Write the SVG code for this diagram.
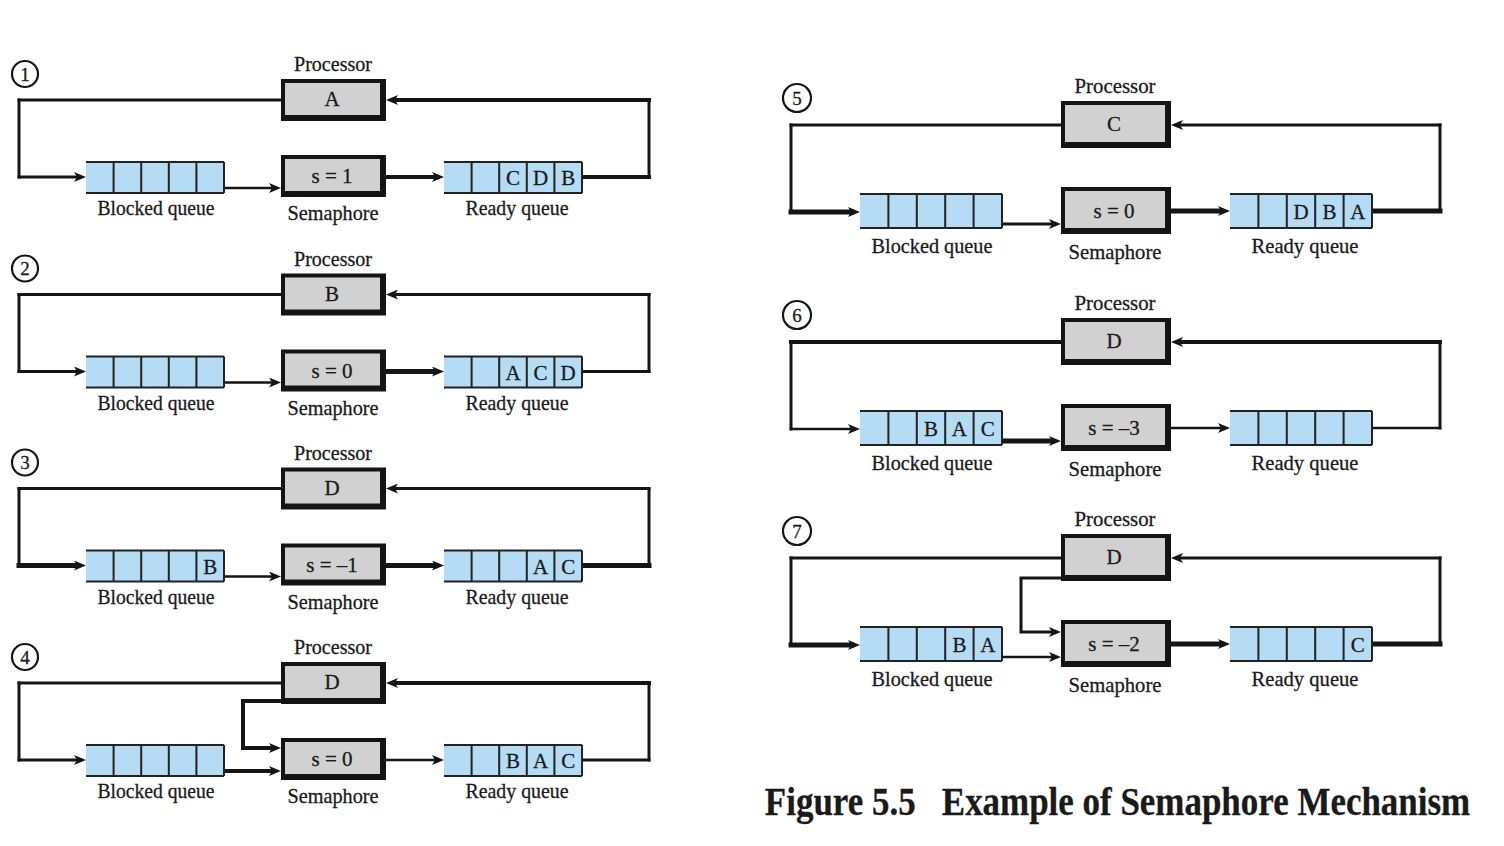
<svg xmlns="http://www.w3.org/2000/svg" width="1504" height="846" viewBox="0 0 1504 846">
<defs>
<style>
.t{font-family:"Liberation Serif","Times New Roman",serif;fill:#1a1a1a;text-anchor:middle;stroke:#1a1a1a;stroke-width:0.3}
.lbl{font-size:22px}
.cl{font-size:21px}
.num{font-size:19px}
.ln{fill:none;stroke:#151515;stroke-linecap:square}
.w25{stroke-width:2.5}.w3{stroke-width:3}.w4{stroke-width:4}.w5{stroke-width:5}
.q{fill:#b5dcf4}
.qb{fill:none;stroke:#222;stroke-width:2}
.bx{fill:#141414}
.in{fill:#d1d1d1}
.circ{fill:#fff;stroke:#151515;stroke-width:2.2}
</style>
<marker id="ah" viewBox="0 0 12 10" refX="3" refY="5" markerWidth="12" markerHeight="10" markerUnits="userSpaceOnUse" orient="auto"><path d="M0,0 L12,5 L0,10 L3,5 z" fill="#151515"/></marker>
</defs>
<rect width="1504" height="846" fill="#fff"/>

<!-- Panel 1 -->
<g id="panel1">
<g id="p1-connectors">
<path class="ln w3" d="M281,100 H19"/><path class="ln w3" d="M19,100 V177"/><path class="ln w3" d="M19,177 H77" marker-end="url(#ah)"/>
<path class="ln w25" d="M224,188 H272" marker-end="url(#ah)"/>
<path class="ln w4" d="M386,177 H435" marker-end="url(#ah)"/>
<path class="ln w4" d="M582,177 H649"/><path class="ln w3" d="M649,177 V100"/><path class="ln w4" d="M649,100 H395" marker-end="url(#ah)"/>
</g>
<g id="p1-step"><circle class="circ" cx="25" cy="74" r="13"/><text class="t num" x="25" y="80.5">1</text></g>
<g id="p1-processor"><text class="t lbl" x="333" y="71" textLength="78" lengthAdjust="spacingAndGlyphs">Processor</text><rect class="bx" x="281" y="79" width="105" height="42"/><rect class="in" x="285" y="83" width="95" height="32"/><text class="t cl" x="332" y="106">A</text></g>
<g id="p1-semaphore"><rect class="bx" x="281" y="155" width="105" height="42"/><rect class="in" x="285" y="159" width="95" height="32"/><text class="t cl" x="332" y="183">s = 1</text><text class="t lbl" x="333" y="220" textLength="91" lengthAdjust="spacingAndGlyphs">Semaphore</text></g>
<g id="p1-blocked"><rect class="q" x="86" y="162" width="138" height="31"/><path class="qb" d="M86,162 H224 M86,193 H224 M113.6,162 V193 M141.2,162 V193 M168.8,162 V193 M196.4,162 V193 M224,162 V193"/><text class="t lbl" x="156" y="215" textLength="117" lengthAdjust="spacingAndGlyphs">Blocked queue</text></g>
<g id="p1-ready"><rect class="q" x="444" y="162" width="138" height="31"/><path class="qb" d="M444,162 H582 M444,193 H582 M471.6,162 V193 M499.2,162 V193 M526.8,162 V193 M554.4,162 V193 M582,162 V193"/><text class="t cl" x="513" y="185">C</text><text class="t cl" x="540.6" y="185">D</text><text class="t cl" x="568.2" y="185">B</text><text class="t lbl" x="517" y="215" textLength="103" lengthAdjust="spacingAndGlyphs">Ready queue</text></g>
</g>

<!-- Panel 2 -->
<g id="panel2" transform="translate(0,194.5)">
<g id="p2-connectors">
<path class="ln w3" d="M281,100 H19"/><path class="ln w3" d="M19,100 V177"/><path class="ln w3" d="M19,177 H77" marker-end="url(#ah)"/>
<path class="ln w25" d="M224,188 H272" marker-end="url(#ah)"/>
<path class="ln w5" d="M386,177 H435" marker-end="url(#ah)"/>
<path class="ln w3" d="M582,177 H649"/><path class="ln w3" d="M649,177 V100"/><path class="ln w3" d="M649,100 H395" marker-end="url(#ah)"/>
</g>
<g id="p2-step"><circle class="circ" cx="25" cy="74" r="13"/><text class="t num" x="25" y="80.5">2</text></g>
<g id="p2-processor"><text class="t lbl" x="333" y="71" textLength="78" lengthAdjust="spacingAndGlyphs">Processor</text><rect class="bx" x="281" y="79" width="105" height="42"/><rect class="in" x="285" y="83" width="95" height="32"/><text class="t cl" x="332" y="106">B</text></g>
<g id="p2-semaphore"><rect class="bx" x="281" y="155" width="105" height="42"/><rect class="in" x="285" y="159" width="95" height="32"/><text class="t cl" x="332" y="183">s = 0</text><text class="t lbl" x="333" y="220" textLength="91" lengthAdjust="spacingAndGlyphs">Semaphore</text></g>
<g id="p2-blocked"><rect class="q" x="86" y="162" width="138" height="31"/><path class="qb" d="M86,162 H224 M86,193 H224 M113.6,162 V193 M141.2,162 V193 M168.8,162 V193 M196.4,162 V193 M224,162 V193"/><text class="t lbl" x="156" y="215" textLength="117" lengthAdjust="spacingAndGlyphs">Blocked queue</text></g>
<g id="p2-ready"><rect class="q" x="444" y="162" width="138" height="31"/><path class="qb" d="M444,162 H582 M444,193 H582 M471.6,162 V193 M499.2,162 V193 M526.8,162 V193 M554.4,162 V193 M582,162 V193"/><text class="t cl" x="513" y="185">A</text><text class="t cl" x="540.6" y="185">C</text><text class="t cl" x="568.2" y="185">D</text><text class="t lbl" x="517" y="215" textLength="103" lengthAdjust="spacingAndGlyphs">Ready queue</text></g>
</g>

<!-- Panel 3 -->
<g id="panel3" transform="translate(0,388.5)">
<g id="p3-connectors">
<path class="ln w3" d="M281,100 H19"/><path class="ln w3" d="M19,100 V177"/><path class="ln w5" d="M19,177 H77" marker-end="url(#ah)"/>
<path class="ln w25" d="M224,188 H272" marker-end="url(#ah)"/>
<path class="ln w5" d="M386,177 H435" marker-end="url(#ah)"/>
<path class="ln w5" d="M582,177 H649"/><path class="ln w3" d="M649,177 V100"/><path class="ln w3" d="M649,100 H395" marker-end="url(#ah)"/>
</g>
<g id="p3-step"><circle class="circ" cx="25" cy="74" r="13"/><text class="t num" x="25" y="80.5">3</text></g>
<g id="p3-processor"><text class="t lbl" x="333" y="71" textLength="78" lengthAdjust="spacingAndGlyphs">Processor</text><rect class="bx" x="281" y="79" width="105" height="42"/><rect class="in" x="285" y="83" width="95" height="32"/><text class="t cl" x="332" y="106">D</text></g>
<g id="p3-semaphore"><rect class="bx" x="281" y="155" width="105" height="42"/><rect class="in" x="285" y="159" width="95" height="32"/><text class="t cl" x="332" y="183">s = –1</text><text class="t lbl" x="333" y="220" textLength="91" lengthAdjust="spacingAndGlyphs">Semaphore</text></g>
<g id="p3-blocked"><rect class="q" x="86" y="162" width="138" height="31"/><path class="qb" d="M86,162 H224 M86,193 H224 M113.6,162 V193 M141.2,162 V193 M168.8,162 V193 M196.4,162 V193 M224,162 V193"/><text class="t cl" x="210.2" y="185">B</text><text class="t lbl" x="156" y="215" textLength="117" lengthAdjust="spacingAndGlyphs">Blocked queue</text></g>
<g id="p3-ready"><rect class="q" x="444" y="162" width="138" height="31"/><path class="qb" d="M444,162 H582 M444,193 H582 M471.6,162 V193 M499.2,162 V193 M526.8,162 V193 M554.4,162 V193 M582,162 V193"/><text class="t cl" x="540.6" y="185">A</text><text class="t cl" x="568.2" y="185">C</text><text class="t lbl" x="517" y="215" textLength="103" lengthAdjust="spacingAndGlyphs">Ready queue</text></g>
</g>

<!-- Panel 4 -->
<g id="panel4" transform="translate(0,583)">
<g id="p4-connectors">
<path class="ln w3" d="M281,100 H19"/><path class="ln w3" d="M19,100 V177"/><path class="ln w3" d="M19,177 H77" marker-end="url(#ah)"/>
<path class="ln w4" d="M224,188 H272" marker-end="url(#ah)"/>
<path class="ln w25" d="M386,177 H435" marker-end="url(#ah)"/>
<path class="ln w3" d="M582,177 H649"/><path class="ln w3" d="M649,177 V100"/><path class="ln w4" d="M649,100 H395" marker-end="url(#ah)"/>
<path class="ln w4" d="M281,118 H243 V165 H272" marker-end="url(#ah)"/>
</g>
<g id="p4-step"><circle class="circ" cx="25" cy="74" r="13"/><text class="t num" x="25" y="80.5">4</text></g>
<g id="p4-processor"><text class="t lbl" x="333" y="71" textLength="78" lengthAdjust="spacingAndGlyphs">Processor</text><rect class="bx" x="281" y="79" width="105" height="42"/><rect class="in" x="285" y="83" width="95" height="32"/><text class="t cl" x="332" y="106">D</text></g>
<g id="p4-semaphore"><rect class="bx" x="281" y="155" width="105" height="42"/><rect class="in" x="285" y="159" width="95" height="32"/><text class="t cl" x="332" y="183">s = 0</text><text class="t lbl" x="333" y="220" textLength="91" lengthAdjust="spacingAndGlyphs">Semaphore</text></g>
<g id="p4-blocked"><rect class="q" x="86" y="162" width="138" height="31"/><path class="qb" d="M86,162 H224 M86,193 H224 M113.6,162 V193 M141.2,162 V193 M168.8,162 V193 M196.4,162 V193 M224,162 V193"/><text class="t lbl" x="156" y="215" textLength="117" lengthAdjust="spacingAndGlyphs">Blocked queue</text></g>
<g id="p4-ready"><rect class="q" x="444" y="162" width="138" height="31"/><path class="qb" d="M444,162 H582 M444,193 H582 M471.6,162 V193 M499.2,162 V193 M526.8,162 V193 M554.4,162 V193 M582,162 V193"/><text class="t cl" x="513" y="185">B</text><text class="t cl" x="540.6" y="185">A</text><text class="t cl" x="568.2" y="185">C</text><text class="t lbl" x="517" y="215" textLength="103" lengthAdjust="spacingAndGlyphs">Ready queue</text></g>
</g>

<!-- Panel 5 -->
<g id="panel5">
<g id="p5-connectors">
<path class="ln w3" d="M1061,125 H791"/><path class="ln w3" d="M791,125 V212"/><path class="ln w5" d="M791,212 H851" marker-end="url(#ah)"/>
<path class="ln w3" d="M1002,224 H1052" marker-end="url(#ah)"/>
<path class="ln w5" d="M1171,211 H1221" marker-end="url(#ah)"/>
<path class="ln w5" d="M1372,211 H1440"/><path class="ln w3" d="M1440,211 V125"/><path class="ln w3" d="M1440,125 H1180" marker-end="url(#ah)"/>
</g>
<g id="p5-step"><circle class="circ" cx="797" cy="98" r="14"/><text class="t num" x="797" y="104.5">5</text></g>
<g id="p5-processor"><text class="t lbl" x="1115" y="93" textLength="81" lengthAdjust="spacingAndGlyphs">Processor</text><rect class="bx" x="1061" y="101" width="110" height="47"/><rect class="in" x="1065" y="105" width="100" height="37"/><text class="t cl" x="1114" y="131">C</text></g>
<g id="p5-semaphore"><rect class="bx" x="1061" y="187" width="110" height="47"/><rect class="in" x="1065" y="191" width="100" height="37"/><text class="t cl" x="1114" y="218">s = 0</text><text class="t lbl" x="1115" y="259" textLength="93" lengthAdjust="spacingAndGlyphs">Semaphore</text></g>
<g id="p5-blocked"><rect class="q" x="860" y="194" width="142" height="34"/><path class="qb" d="M860,194 H1002 M860,228 H1002 M888.4,194 V228 M916.8,194 V228 M945.2,194 V228 M973.6,194 V228 M1002,194 V228"/><text class="t lbl" x="932" y="253" textLength="121" lengthAdjust="spacingAndGlyphs">Blocked queue</text></g>
<g id="p5-ready"><rect class="q" x="1230" y="194" width="142" height="34"/><path class="qb" d="M1230,194 H1372 M1230,228 H1372 M1258.4,194 V228 M1286.8,194 V228 M1315.2,194 V228 M1343.6,194 V228 M1372,194 V228"/><text class="t cl" x="1301" y="219">D</text><text class="t cl" x="1329.4" y="219">B</text><text class="t cl" x="1357.8" y="219">A</text><text class="t lbl" x="1305" y="253" textLength="107" lengthAdjust="spacingAndGlyphs">Ready queue</text></g>
</g>

<!-- Panel 6 -->
<g id="panel6" transform="translate(0,217)">
<g id="p6-connectors">
<path class="ln w4" d="M1061,125 H791"/><path class="ln w3" d="M791,125 V212"/><path class="ln w25" d="M791,212 H851" marker-end="url(#ah)"/>
<path class="ln w5" d="M1002,224 H1052" marker-end="url(#ah)"/>
<path class="ln w25" d="M1171,211 H1221" marker-end="url(#ah)"/>
<path class="ln w25" d="M1372,211 H1440"/><path class="ln w3" d="M1440,211 V125"/><path class="ln w4" d="M1440,125 H1180" marker-end="url(#ah)"/>
</g>
<g id="p6-step"><circle class="circ" cx="797" cy="98" r="14"/><text class="t num" x="797" y="104.5">6</text></g>
<g id="p6-processor"><text class="t lbl" x="1115" y="93" textLength="81" lengthAdjust="spacingAndGlyphs">Processor</text><rect class="bx" x="1061" y="101" width="110" height="47"/><rect class="in" x="1065" y="105" width="100" height="37"/><text class="t cl" x="1114" y="131">D</text></g>
<g id="p6-semaphore"><rect class="bx" x="1061" y="187" width="110" height="47"/><rect class="in" x="1065" y="191" width="100" height="37"/><text class="t cl" x="1114" y="218">s = –3</text><text class="t lbl" x="1115" y="259" textLength="93" lengthAdjust="spacingAndGlyphs">Semaphore</text></g>
<g id="p6-blocked"><rect class="q" x="860" y="194" width="142" height="34"/><path class="qb" d="M860,194 H1002 M860,228 H1002 M888.4,194 V228 M916.8,194 V228 M945.2,194 V228 M973.6,194 V228 M1002,194 V228"/><text class="t cl" x="931" y="219">B</text><text class="t cl" x="959.4" y="219">A</text><text class="t cl" x="987.8" y="219">C</text><text class="t lbl" x="932" y="253" textLength="121" lengthAdjust="spacingAndGlyphs">Blocked queue</text></g>
<g id="p6-ready"><rect class="q" x="1230" y="194" width="142" height="34"/><path class="qb" d="M1230,194 H1372 M1230,228 H1372 M1258.4,194 V228 M1286.8,194 V228 M1315.2,194 V228 M1343.6,194 V228 M1372,194 V228"/><text class="t lbl" x="1305" y="253" textLength="107" lengthAdjust="spacingAndGlyphs">Ready queue</text></g>
</g>

<!-- Panel 7 -->
<g id="panel7" transform="translate(0,433)">
<g id="p7-connectors">
<path class="ln w3" d="M1061,125 H791"/><path class="ln w3" d="M791,125 V212"/><path class="ln w5" d="M791,212 H851" marker-end="url(#ah)"/>
<path class="ln w25" d="M1002,224 H1052" marker-end="url(#ah)"/>
<path class="ln w5" d="M1171,211 H1221" marker-end="url(#ah)"/>
<path class="ln w5" d="M1372,211 H1440"/><path class="ln w3" d="M1440,211 V125"/><path class="ln w3" d="M1440,125 H1180" marker-end="url(#ah)"/>
<path class="ln w3" d="M1061,145 H1021 V199 H1052" marker-end="url(#ah)"/>
</g>
<g id="p7-step"><circle class="circ" cx="797" cy="98" r="14"/><text class="t num" x="797" y="104.5">7</text></g>
<g id="p7-processor"><text class="t lbl" x="1115" y="93" textLength="81" lengthAdjust="spacingAndGlyphs">Processor</text><rect class="bx" x="1061" y="101" width="110" height="47"/><rect class="in" x="1065" y="105" width="100" height="37"/><text class="t cl" x="1114" y="131">D</text></g>
<g id="p7-semaphore"><rect class="bx" x="1061" y="187" width="110" height="47"/><rect class="in" x="1065" y="191" width="100" height="37"/><text class="t cl" x="1114" y="218">s = –2</text><text class="t lbl" x="1115" y="259" textLength="93" lengthAdjust="spacingAndGlyphs">Semaphore</text></g>
<g id="p7-blocked"><rect class="q" x="860" y="194" width="142" height="34"/><path class="qb" d="M860,194 H1002 M860,228 H1002 M888.4,194 V228 M916.8,194 V228 M945.2,194 V228 M973.6,194 V228 M1002,194 V228"/><text class="t cl" x="959.4" y="219">B</text><text class="t cl" x="987.8" y="219">A</text><text class="t lbl" x="932" y="253" textLength="121" lengthAdjust="spacingAndGlyphs">Blocked queue</text></g>
<g id="p7-ready"><rect class="q" x="1230" y="194" width="142" height="34"/><path class="qb" d="M1230,194 H1372 M1230,228 H1372 M1258.4,194 V228 M1286.8,194 V228 M1315.2,194 V228 M1343.6,194 V228 M1372,194 V228"/><text class="t cl" x="1357.8" y="219">C</text><text class="t lbl" x="1305" y="253" textLength="107" lengthAdjust="spacingAndGlyphs">Ready queue</text></g>
</g>

<g id="caption"><text class="t" transform="translate(1117.5,815) scale(0.874,1)" x="0" y="0" font-size="40" font-weight="bold" xml:space="preserve">Figure 5.5   Example of Semaphore Mechanism</text></g>
</svg>
